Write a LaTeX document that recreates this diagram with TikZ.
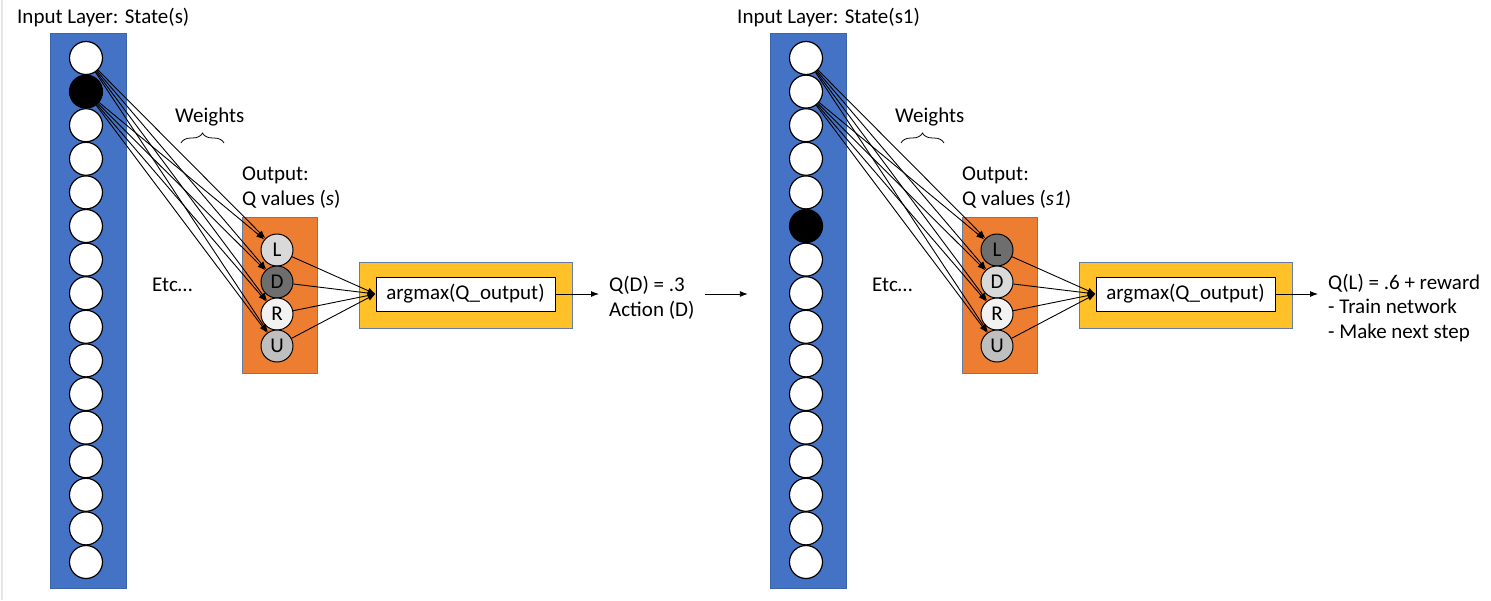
\documentclass[tikz,border=0pt]{standalone}
\usepackage{fontspec}
\setmainfont{Carlito}
\usetikzlibrary{arrows.meta,decorations.pathreplacing,calc}

\definecolor{layerblue}{RGB}{68,114,196}
\definecolor{layeredge}{RGB}{60,100,170}
\definecolor{qorange}{RGB}{237,125,49}
\definecolor{argyellow}{RGB}{255,192,40}
\definecolor{boxedge}{RGB}{100,125,165}
\definecolor{qlight}{RGB}{217,217,217}
\definecolor{qdark}{RGB}{110,110,110}
\definecolor{qpale}{RGB}{242,242,242}
\definecolor{qmid}{RGB}{191,191,191}

\tikzset{
  txt/.style={inner sep=0pt, anchor=base west, align=left},
  incirc/.style={circle, draw, line width=1.2pt, minimum size=33pt, inner sep=0pt},
  qcirc/.style={circle, draw, line width=1pt, minimum size=32pt, inner sep=0pt},
  wire/.style={line width=0.9pt, -{Latex[length=8pt,width=6pt]}},
}

\begin{document}
\begin{tikzpicture}[x=1pt, y=-1pt, font=\fontsize{21}{24.5}\selectfont]
    % Keep the page the size of the screenshot
    \useasboundingbox (0,0) rectangle (1491,600);
    \draw[gray!20, line width=2pt] (2,0) -- (2,600);

    % Two copies of the network: state s (A) and state s1 (B)
    \foreach \p/\dx/\blk/\lf/\df/\st in {A/0/2/qlight/qdark/s, B/720/6/qdark/qlight/s1} {
        % Input layer column
        \node[draw=layeredge, fill=layerblue, minimum width=76pt, minimum height=555pt, inner sep=0pt] (in\p) at (88+\dx,310.5) {};
        \node[txt] (lbl\p) at (17+\dx,23) {Input Layer: State(\st)};

        % 16 input neurons, one of them is the current position (black)
        \foreach \i in {1,...,16} {
            \ifnum\i=\blk \def\cf{black}\else \def\cf{white}\fi
            \node[incirc, fill=\cf] (\p\i) at (86+\dx,{58+33.6*(\i-1)}) {};
        }

        % Weights label with a brace
        \node[txt] (wt\p) at (175+\dx,122) {Weights};
        \draw[decorate, decoration={brace, amplitude=10pt}, line width=0.8pt] (181+\dx,143) -- (224+\dx,143);

        % Output layer: Q values for L, D, R, U (base = last line)
        \node[txt] (out\p) at (242+\dx,205) {Output:\\Q values (\textit{\st})};
        \node[draw=boxedge, fill=qorange, minimum width=75pt, minimum height=156pt, inner sep=0pt] (qb\p) at (279.5+\dx,295) {};
        \node[qcirc, fill=\lf] (\p L) at (277+\dx,250) {L};
        \node[qcirc, fill=\df] (\p D) at (277+\dx,282) {D};
        \node[qcirc, fill=qpale] (\p R) at (277+\dx,314) {R};
        \node[qcirc, fill=qmid] (\p U) at (277+\dx,346) {U};

        \node[txt] (etc\p) at (152+\dx,291) {Etc…};

        % argmax block
        \node[draw=boxedge, fill=argyellow, minimum width=213pt, minimum height=66pt, inner sep=0pt] (ay\p) at (465.5+\dx,295) {};
        \node[draw, fill=white, line width=0.8pt, minimum width=179pt, minimum height=34pt, inner sep=0pt] (arg\p) at (465.5+\dx,294) {argmax(Q\_output)};

        % Connections: first two inputs to every output, outputs to argmax
        \foreach \s in {1,2}
            \foreach \o in {L,D,R,U}
                \draw[wire] (\p\s) -- (\p\o);
        \foreach \o in {L,D,R,U}
            \draw[wire] (\p\o) -- (arg\p.west);
    }

    % Results of each step (base = last line)
    \node[txt] (resA) at (609,316) {Q(D) = .3\\Action (D)};
    \node[txt] (resB) at (1328,338) {Q(L) = .6 + reward\\- Train network\\- Make next step};

    \draw[wire, shorten >=10pt] (argA.east) -- (argA.east -| resA.west);
    \draw[wire, shorten <=10pt, shorten >=22pt] (resA.east |- argA.east) -- (inB.west |- argA.east);
    \draw[wire, shorten >=10pt] (argB.east) -- (argB.east -| resB.west);
\end{tikzpicture}
\end{document}
